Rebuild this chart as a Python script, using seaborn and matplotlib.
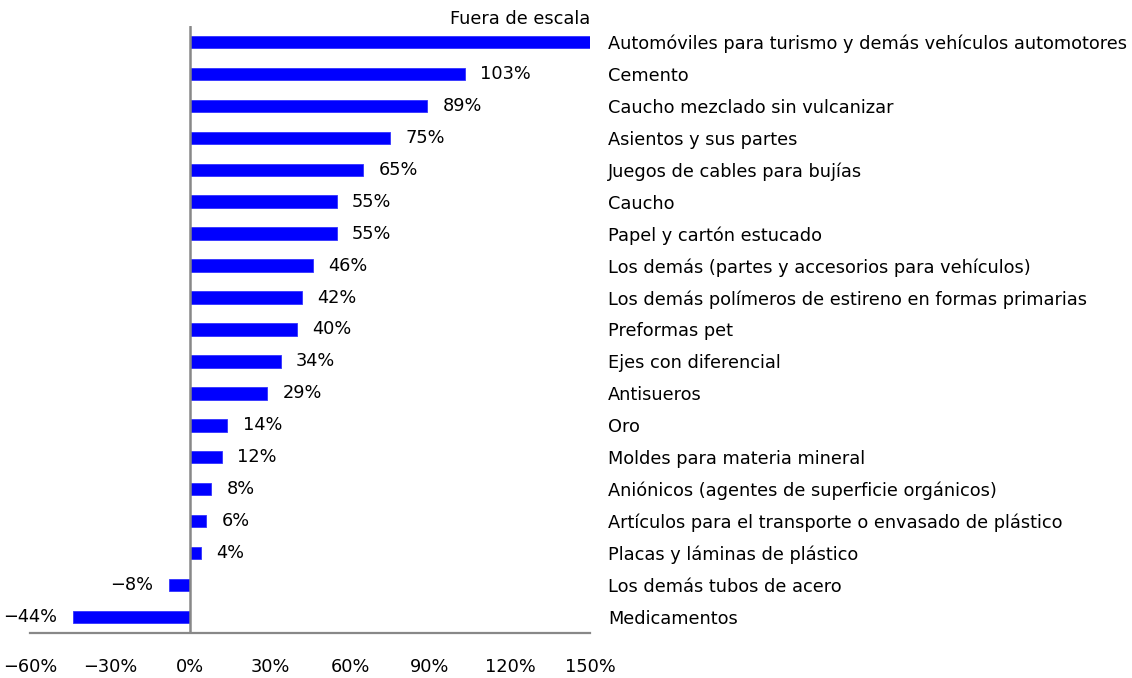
import seaborn as sns
import matplotlib.pyplot as plt
from matplotlib.ticker import FuncFormatter

# Productos (orden de arriba hacia abajo) y variación porcentual
productos = [
    "Automóviles para turismo y demás vehículos automotores",
    "Cemento",
    "Caucho mezclado sin vulcanizar",
    "Asientos y sus partes",
    "Juegos de cables para bujías",
    "Caucho",
    "Papel y cartón estucado",
    "Los demás (partes y accesorios para vehículos)",
    "Los demás polímeros de estireno en formas primarias",
    "Preformas pet",
    "Ejes con diferencial",
    "Antisueros",
    "Oro",
    "Moldes para materia mineral",
    "Aniónicos (agentes de superficie orgánicos)",
    "Artículos para el transporte o envasado de plástico",
    "Placas y láminas de plástico",
    "Los demás tubos de acero",
    "Medicamentos",
]
# el primero está fuera de escala: se dibuja hasta el tope del eje
variacion = [150, 103, 89, 75, 65, 55, 55, 46, 42, 40, 34, 29, 14, 12, 8, 6, 4, -8, -44]
fuera_de_escala = [True] + [False] * (len(productos) - 1)
ticks_x = [-60, -30, 0, 30, 60, 90, 120, 150]

sns.set_style("white")
plt.rcParams['font.family'] = ['DejaVu Sans']
plt.rcParams['font.size'] = 12.8
plt.rcParams['text.color'] = 'black'
plt.rcParams['xtick.color'] = 'black'
plt.rcParams['ytick.color'] = 'black'

fig = plt.figure(figsize=(11.32, 6.78), dpi=100)
ax = fig.add_axes([0.0265, 0.0664, 0.4947, 0.8953])

sns.barplot(x=variacion, y=productos, color="#0000FF", width=0.39,
            orient="h", saturation=1, edgecolor="#3333FF", linewidth=0.6, ax=ax)

ax.set_xlim(ticks_x[0], ticks_x[-1])
ax.set_ylim(len(productos) - 0.5, -0.5)
ax.set_xticks(ticks_x)
ax.xaxis.set_major_formatter(FuncFormatter(lambda v, _: f"{v:.0f}%".replace("-", "\u2212")))
ax.tick_params(axis="x", length=0, pad=18, labelsize=12.8)

# etiquetas de categoría a la derecha
ax.yaxis.tick_right()
ax.tick_params(axis="y", length=0, pad=13, labelsize=12.8)
ax.set_xlabel("")
ax.set_ylabel("")

for side in ["top", "right", "left"]:
    ax.spines[side].set_visible(False)
ax.spines["bottom"].set_color("#888888")
ax.spines["bottom"].set_linewidth(1.6)
ax.axvline(0, color="#888888", lw=1.8, zorder=3)

etiquetas = ["" if f else f"{v}%".replace("-", "\u2212") for v, f in zip(variacion, fuera_de_escala)]
ax.bar_label(ax.containers[0], labels=etiquetas, padding=11, fontsize=12.8)

ax.text(ticks_x[-1], -0.45, "Fuera de escala", ha="right", va="bottom", fontsize=12.8)

fig.savefig("out.png", dpi=100)
